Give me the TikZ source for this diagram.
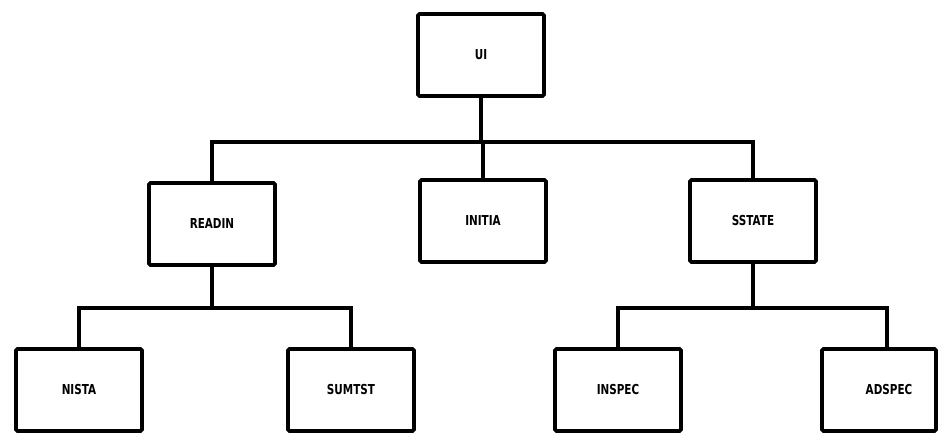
\documentclass[tikz,border=0pt]{standalone}
\usepackage{fontspec}
\newfontfamily\boxfont[FakeStretch=0.76]{DejaVu Sans}
\begin{document}
\begin{tikzpicture}[x=1pt,y=-1pt,
  module/.style={draw=black, line width=3.6pt, rounded corners=1.5pt, fill=white,
    minimum width=126pt, minimum height=82pt, inner sep=0pt,
    font=\boxfont\bfseries\fontsize{13.7}{14}\selectfont},
  wire/.style={line width=3.4pt, line cap=rect}]
\useasboundingbox (0,0) rectangle (940,433);

% call tree nodes
\node[module] (ui)     at (481,55)  {UI};
\node[module] (readin) at (212,224) {READIN};
\node[module] (initia) at (483,221) {INITIA};
\node[module] (sstate) at (753,221) {SSTATE};
\node[module] (nista)  at (79,390)  {NISTA};
\node[module] (sumtst) at (351,390) {SUMTST};
\node[module] (inspec) at (618,390) {INSPEC};
\node[module, minimum width=114pt] (adspec) at (879,390) {\makebox[0pt]{\hspace*{20pt}ADSPEC}};

% bus levels
\coordinate (bus1) at (0,142);
\coordinate (bus2) at (0,308);

% UI -> READIN, INITIA, SSTATE
\draw[wire] (ui.south) -- (ui.south |- bus1);
\draw[wire] (readin.north) |- (sstate.north |- bus1) -- (sstate.north);
\draw[wire] (initia.north) -- (initia.north |- bus1);

% READIN -> NISTA, SUMTST
\draw[wire] (readin.south) -- (readin.south |- bus2);
\draw[wire] (nista.north) |- (sumtst.north |- bus2) -- (sumtst.north);

% SSTATE -> INSPEC, ADSPEC
\draw[wire] (sstate.south) -- (sstate.south |- bus2);
\draw[wire] (inspec.north) |- ([xshift=8pt]adspec.north |- bus2) -- ([xshift=8pt]adspec.north);
\end{tikzpicture}
\end{document}
